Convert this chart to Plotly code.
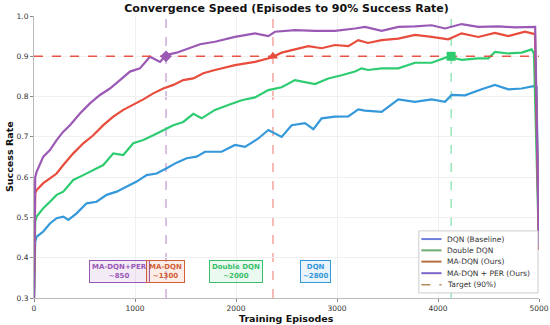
import plotly.graph_objects as go

# ---- data ----
dqn_x = [0, 12, 26, 92, 158, 224, 290, 340, 422, 521, 620, 719, 818, 917, 1016, 1115, 1214, 1313, 1412, 1511,
         1610, 1693, 1858, 1990, 2089, 2221, 2320, 2452, 2551, 2683, 2766, 2848, 2980, 3112, 3211, 3277,
         3442, 3607, 3772, 3937, 4069, 4135, 4267, 4432, 4564, 4696, 4828, 4944, 4975, 5000]
dqn_y = [0.30, 0.44, 0.452, 0.465, 0.485, 0.498, 0.502, 0.494, 0.510, 0.535, 0.539, 0.556, 0.564, 0.576, 0.589,
         0.605, 0.609, 0.622, 0.636, 0.647, 0.651, 0.663, 0.663, 0.680, 0.675, 0.696, 0.717, 0.700, 0.729,
         0.734, 0.719, 0.746, 0.750, 0.751, 0.768, 0.765, 0.762, 0.793, 0.787, 0.793, 0.787, 0.804, 0.803,
         0.818, 0.829, 0.818, 0.820, 0.826, 0.824, 0.42]

ddqn_x = [0, 12, 26, 92, 158, 224, 290, 389, 488, 587, 686, 785, 884, 983, 1082, 1181, 1280, 1379, 1478, 1577,
          1660, 1792, 1924, 2056, 2188, 2320, 2452, 2584, 2782, 2914, 3046, 3178, 3244, 3307, 3442, 3607,
          3772, 3937, 4102, 4234, 4399, 4498, 4564, 4696, 4828, 4927, 4950, 5000]
ddqn_y = [0.30, 0.49, 0.502, 0.523, 0.539, 0.556, 0.564, 0.593, 0.605, 0.618, 0.630, 0.659, 0.655, 0.684, 0.692,
          0.704, 0.717, 0.729, 0.737, 0.757, 0.746, 0.767, 0.779, 0.791, 0.798, 0.816, 0.823, 0.841, 0.831,
          0.845, 0.853, 0.862, 0.870, 0.866, 0.870, 0.870, 0.884, 0.884, 0.899, 0.891, 0.895, 0.895, 0.911,
          0.907, 0.909, 0.917, 0.907, 0.42]

madqn_x = [0, 12, 26, 92, 158, 224, 290, 389, 488, 587, 686, 785, 884, 983, 1082, 1181, 1280, 1379, 1478, 1577,
           1676, 1792, 1990, 2188, 2353, 2452, 2584, 2716, 2848, 2980, 3112, 3211, 3307, 3442, 3607, 3772,
           3937, 4102, 4234, 4399, 4564, 4696, 4861, 4927, 4960, 5000]
madqn_y = [0.30, 0.56, 0.568, 0.585, 0.597, 0.609, 0.630, 0.659, 0.684, 0.704, 0.729, 0.750, 0.767, 0.779,
           0.793, 0.808, 0.820, 0.829, 0.841, 0.845, 0.858, 0.866, 0.878, 0.886, 0.897, 0.909, 0.917, 0.925,
           0.920, 0.928, 0.925, 0.940, 0.933, 0.940, 0.944, 0.953, 0.948, 0.942, 0.957, 0.948, 0.958, 0.950,
           0.961, 0.957, 0.955, 0.42]

per_x = [0, 12, 26, 92, 158, 224, 290, 356, 455, 554, 653, 752, 851, 950, 1049, 1148, 1248, 1307, 1412, 1545,
         1644, 1792, 1990, 2188, 2320, 2386, 2584, 2782, 2980, 3178, 3277, 3442, 3607, 3772, 3937, 4069, 4234,
         4399, 4597, 4762, 4927, 4962, 5000]
per_y = [0.30, 0.60, 0.613, 0.651, 0.667, 0.692, 0.713, 0.729, 0.758, 0.783, 0.804, 0.820, 0.841, 0.862,
         0.870, 0.899, 0.886, 0.903, 0.909, 0.920, 0.930, 0.936, 0.948, 0.957, 0.950, 0.961, 0.965, 0.963,
         0.963, 0.969, 0.973, 0.963, 0.973, 0.974, 0.977, 0.969, 0.980, 0.973, 0.974, 0.972, 0.974, 0.973, 0.427]

series_names = ["DQN (Baseline)", "Double DQN", "MA-DQN (Ours)", "MA-DQN + PER (Ours)"]
line_colors = ["#3498db", "#2ecc71", "#e74c3c", "#9b59b6"]
legend_colors = ["#6f7fdc", "#6fae6f", "#b5703f", "#7d66c9"]
target_name = "Target (90%)"
target_legend_color = "#b88a5a"

target = 0.9
conv_eps = [1307, 2366, 4130]           # crossing points of 0.9 (MA-DQN+PER, MA-DQN, Double DQN)
conv_colors = ["#9b59b6", "#e74c3c", "#2ecc71"]
conv_symbols = ["diamond", "triangle-up", "square"]

box_labels = ["MA-DQN+PER<br>~850", "MA-DQN<br>~1300", "Double DQN<br>~2000", "DQN<br>~2800"]
box_x = [842, 1302, 1995, 2792]
box_y = 0.366
box_text_colors = ["#9b59b6", "#d0603a", "#3cbf6a", "#3498db"]
box_bg = ["rgba(155,89,182,0.12)", "rgba(231,110,60,0.12)", "rgba(46,204,113,0.10)", "rgba(52,152,219,0.10)"]

xs = [dqn_x, ddqn_x, madqn_x, per_x]
ys = [dqn_y, ddqn_y, madqn_y, per_y]

fig = go.Figure()

for x, y, c, n in zip(xs, ys, line_colors, series_names):
    fig.add_trace(go.Scatter(x=x, y=y, mode="lines", line=dict(color=c, width=2.2),
                             name=n, showlegend=False, hoverinfo="skip"))

# target horizontal line
fig.add_trace(go.Scatter(x=[0, 5000], y=[target, target], mode="lines",
                         line=dict(color="rgba(231,76,60,0.95)", width=1.6, dash="dash"),
                         showlegend=False, hoverinfo="skip"))

# vertical convergence lines + markers
for e, c, s in zip(conv_eps, conv_colors, conv_symbols):
    fig.add_shape(type="line", x0=e, x1=e, y0=0.3, y1=1.0, xref="x", yref="y",
                  line=dict(color=c, width=1, dash="dash"), opacity=0.75, layer="below")
    fig.add_trace(go.Scatter(x=[e], y=[target], mode="markers",
                             marker=dict(color=c, size=9, symbol=s),
                             showlegend=False, hoverinfo="skip"))

for lab, bx, tc, bg in zip(box_labels, box_x, box_text_colors, box_bg):
    fig.add_annotation(x=bx, y=box_y, text="<b>" + lab + "</b>", showarrow=False,
                       font=dict(family="DejaVu Sans", size=7, color=tc),
                       bordercolor=tc, borderwidth=1, borderpad=2, bgcolor=bg, align="center")

# ---- compact legend drawn in paper coordinates ----
leg_x0, leg_x1, leg_y0, leg_y1 = 0.762, 0.998, 0.018, 0.238
fig.add_shape(type="rect", xref="paper", yref="paper", x0=leg_x0, x1=leg_x1, y0=leg_y0, y1=leg_y1,
              line=dict(color="#cccccc", width=1), fillcolor="rgba(255,255,255,0.88)", layer="above")
leg_rows = [0.209, 0.169, 0.129, 0.088, 0.047]
leg_names = series_names + [target_name]
leg_cols = legend_colors + [target_legend_color]
leg_dash = ["solid"] * 4 + ["dash"]
for ry, n, c, d in zip(leg_rows, leg_names, leg_cols, leg_dash):
    fig.add_shape(type="line", xref="paper", yref="paper", x0=0.767, x1=0.807, y0=ry, y1=ry,
                  line=dict(color=c, width=2 if d == "solid" else 1.5, dash=d), layer="above")
    fig.add_annotation(xref="paper", yref="paper", x=0.814, y=ry, text=n, showarrow=False,
                       xanchor="left", yanchor="middle",
                       font=dict(family="DejaVu Sans", size=7.5, color="#333333"))

# axis titles as annotations (fixed positions)
fig.add_annotation(xref="paper", yref="paper", x=0.5, y=-0.071, text="<b>Training Episodes</b>",
                   showarrow=False, xanchor="center", yanchor="middle",
                   font=dict(family="DejaVu Sans", size=9.5, color="#111111"))
fig.add_annotation(xref="paper", yref="paper", x=-0.0495, y=0.5, text="<b>Success Rate</b>",
                   showarrow=False, xanchor="center", yanchor="middle", textangle=-90,
                   font=dict(family="DejaVu Sans", size=9.5, color="#111111"))

fig.update_layout(
    width=550, height=325,
    margin=dict(l=34, r=11, t=16, b=27, autoexpand=False),
    paper_bgcolor="white", plot_bgcolor="white",
    font=dict(family="DejaVu Sans", size=8, color="#333333"),
    title=dict(text="<b>Convergence Speed (Episodes to 90% Success Rate)</b>",
               x=0.521, xanchor="center", y=0.975, yanchor="middle",
               font=dict(family="DejaVu Sans", size=11, color="#111111")),
    showlegend=False,
)
fig.update_xaxes(range=[0, 5000], tickvals=[0, 1000, 2000, 3000, 4000, 5000], automargin=False,
                 showgrid=True, gridcolor="#f0f0f0", gridwidth=1, zeroline=False,
                 showline=True, linecolor="#bbbbbb", linewidth=1,
                 ticks="outside", ticklen=3, tickcolor="#888888", tickfont=dict(size=7.5))
fig.update_yaxes(range=[0.3, 1.0], tickvals=[0.3, 0.4, 0.5, 0.6, 0.7, 0.8, 0.9, 1.0], automargin=False,
                 tickformat=".1f",
                 showgrid=True, gridcolor="#f0f0f0", gridwidth=1, zeroline=False,
                 showline=True, linecolor="#bbbbbb", linewidth=1,
                 ticks="outside", ticklen=3, tickcolor="#888888", tickfont=dict(size=7.5))

fig.write_html("out.html", config={"displayModeBar": False},
               post_script="document.body.style.margin='0px';document.body.style.overflow='hidden';")
